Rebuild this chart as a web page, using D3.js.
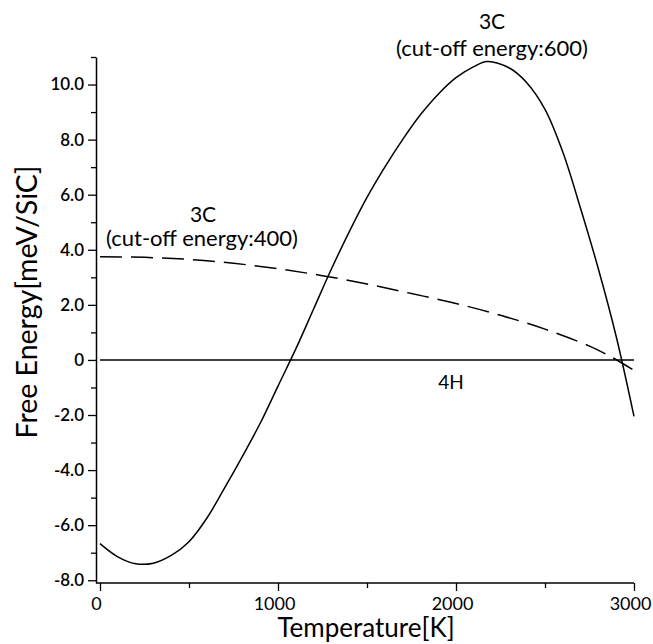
<!DOCTYPE html>
<html>
<head>
<meta charset="utf-8">
<script src="https://cdn.jsdelivr.net/npm/d3@7"></script>
<style>
  body { margin: 0; background: #fff; }
  svg text { font-family: Lato, "DejaVu Sans", sans-serif; fill: #000; }
</style>
</head>
<body>
<svg id="chart" width="653" height="644"></svg>
<script>
// values: [Temperature K, Free energy meV/SiC]
var cutoff600 = [[0,-6.67],[100,-7.15],[200,-7.4],[300,-7.38],[400,-7.1],[500,-6.6],[600,-5.75],
  [700,-4.65],[800,-3.5],[900,-2.3],[1000,-0.95],[1100,0.4],[1200,1.85],[1300,3.3],[1400,4.65],
  [1500,5.9],[1600,7.0],[1700,8.0],[1800,8.9],[1900,9.65],[2000,10.25],[2100,10.65],[2174,10.84],
  [2300,10.6],[2400,10.05],[2500,9.1],[2600,7.55],[2700,5.5],[2800,3.3],[2900,0.85],[3000,-2.05]];
var cutoff400 = [[0,3.75],[250,3.725],[500,3.65],[750,3.51],[1000,3.31],[1250,3.06],[1500,2.76],
  [1750,2.41],[2000,2.05],[2250,1.62],[2500,1.12],[2750,0.5],[2875,0.1],[3000,-0.38]];
var ref4H = [[0,0],[3000,0]];

var xMajor = [0,1000,2000,3000];
var xMinor = [500,1500,2500];
var yMajor = [-8,-6,-4,-2,0,2,4,6,8,10];
var yMinor = [-7,-5,-3,-1,1,3,5,7,9,11];

var svg = d3.select("#chart");

var x = d3.scaleLinear().domain([0,3000]).range([100,634]);
var y = d3.scaleLinear().domain([-8.1,11]).range([583,57]);

function yFmt(d) { return d == 0 ? "0" : d.toFixed(1); }

// y axis
var yAx = svg.append("g").attr("transform","translate(96,0)")
    .call(d3.axisLeft(y).tickValues(yMajor).tickSize(8).tickSizeOuter(0).tickPadding(4).tickFormat(yFmt));
yAx.select(".domain").attr("stroke","#000").attr("stroke-width",1.5);
yAx.selectAll(".tick line").attr("stroke-width",1.3);
yAx.selectAll("text").style("font-size","17px").style("font-weight","600");

svg.append("g").attr("transform","translate(96,0)")
    .call(d3.axisLeft(y).tickValues(yMinor).tickSize(5).tickSizeOuter(0).tickFormat(""))
    .call(function(g){ g.select(".domain").remove(); g.selectAll("line").attr("stroke-width",1.3); });

// x axis
var xAx = svg.append("g").attr("transform","translate(0,583)")
    .call(d3.axisBottom(x).tickValues(xMajor).tickSize(8).tickSizeOuter(0).tickPadding(6).tickFormat(d3.format("d")));
xAx.select(".domain").remove();
xAx.selectAll(".tick line").attr("stroke-width",1.3);
xAx.selectAll("text").attr("dx",-4).style("font-size","18px");

svg.append("g").attr("transform","translate(0,583)")
    .call(d3.axisBottom(x).tickValues(xMinor).tickSize(5).tickSizeOuter(0).tickFormat(""))
    .call(function(g){ g.select(".domain").remove(); g.selectAll("line").attr("stroke-width",1.3); });

svg.append("line").attr("x1",96).attr("x2",x(3000)).attr("y1",583).attr("y2",583)
    .attr("stroke","#000").attr("stroke-width",1.5);

// curves
var line = d3.line().x(function(d){return x(d[0]);}).y(function(d){return y(d[1]);})
    .curve(d3.curveCatmullRom.alpha(0.5));

svg.append("path").datum(ref4H)
    .attr("d", d3.line().x(function(d){return x(d[0]);}).y(function(d){return y(d[1]);}))
    .attr("fill","none").attr("stroke","#000").attr("stroke-width",1.5);

svg.append("path").datum(cutoff400).attr("d",line)
    .attr("fill","none").attr("stroke","#000").attr("stroke-width",1.5)
    .attr("stroke-dasharray","22,9");

svg.append("path").datum(cutoff600).attr("d",line)
    .attr("fill","none").attr("stroke","#000").attr("stroke-width",1.5);

// labels
function label(tx, ty, txt, size) {
  svg.append("text").attr("x",tx).attr("y",ty).attr("text-anchor","middle")
    .style("font-size",size+"px").text(txt);
}
label(492, 29, "3C", 21);
label(492, 56, "(cut-off energy:600)", 22);
label(203, 222, "3C", 21);
label(202, 246, "(cut-off energy:400)", 22);
label(451, 389, "4H", 19);

label(366, 637, "Temperature[K]", 26);
svg.append("text").attr("transform","translate(37,302) rotate(-90)")
    .attr("text-anchor","middle").style("font-size","28.5px").text("Free Energy[meV/SiC]");
</script>
</body>
</html>
